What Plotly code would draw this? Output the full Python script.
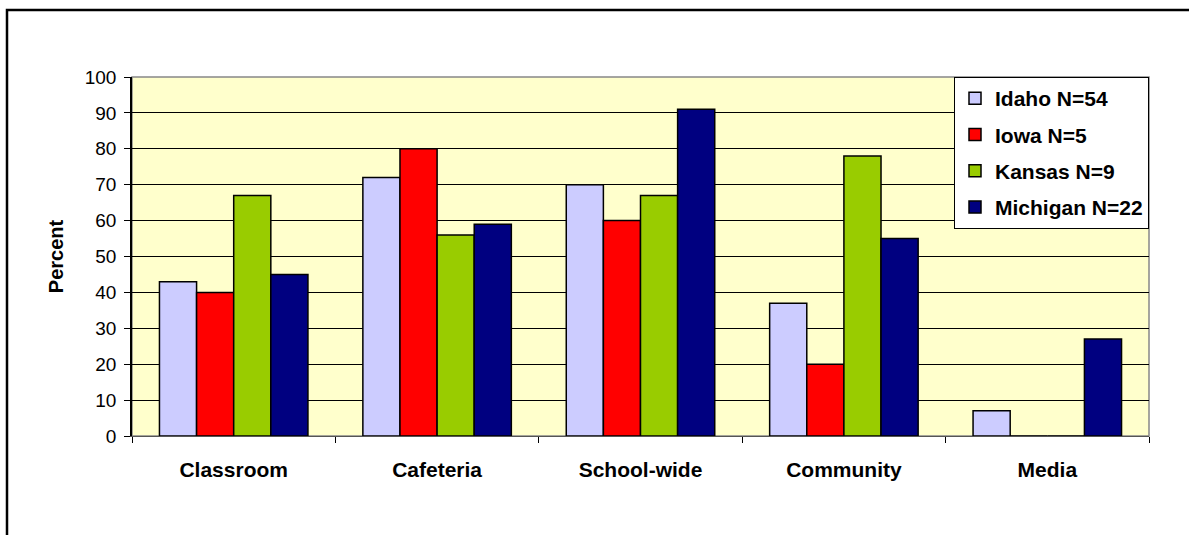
import plotly.graph_objects as go

# Survey results by setting and state
categories = ["Classroom", "Cafeteria", "School-wide", "Community", "Media"]
series_names = ["Idaho N=54", "Iowa N=5", "Kansas N=9", "Michigan N=22"]
idaho = [43, 72, 70, 37, 7]
iowa = [40, 80, 60, 20, 0]
kansas = [67, 56, 67, 78, 0]
michigan = [45, 59, 91, 55, 27]
colors = ["#CCCCFF", "#FF0000", "#99CC00", "#000080"]

FONT = "Liberation Sans, Arial, sans-serif"

fig = go.Figure()
for i, (name, vals, col) in enumerate(zip(series_names, [idaho, iowa, kansas, michigan], colors)):
    fig.add_trace(go.Bar(
        x=categories, y=vals, name=name,
        marker=dict(color=col, line=dict(color="black", width=1.5)),
        legendgroup=f"g{i}",
    ))

W, H = 1189, 535
L, R, T, B = 132, 40, 77, 98.5
pw, ph = W - L - R, H - T - B

def px_x(p):
    return (p - L) / pw

def px_y(p):
    return (H - B - p) / ph

fig.update_layout(
    width=W, height=H,
    margin=dict(l=L, r=R, t=T, b=B, pad=0),
    paper_bgcolor="white",
    plot_bgcolor="#FFFFCC",
    barmode="group",
    bargap=0.27,
    bargroupgap=0,
    font=dict(family=FONT, size=19, color="black"),
    legend=dict(
        x=1, xanchor="right", y=1, yanchor="top",
        bgcolor="white", bordercolor="black", borderwidth=1,
        font=dict(family=FONT, size=21, color="black", weight="bold"),
        tracegroupgap=6,
        itemwidth=30,
    ),
    xaxis=dict(
        type="category",
        tickson="boundaries",
        ticks="outside", ticklen=6, tickcolor="black",
        showline=True, linecolor="#555555", linewidth=1,
        tickfont=dict(family=FONT, size=21, weight="bold"),
        ticklabelstandoff=15,
        showgrid=False,
    ),
    yaxis=dict(
        range=[0, 100], dtick=10,
        ticks="outside", ticklen=6, tickcolor="black",
        showline=True, linecolor="black", linewidth=1.5,
        showgrid=True, gridcolor="black", gridwidth=1,
        tickfont=dict(family=FONT, size=19),
        ticklabelstandoff=4,
        title=dict(text="Percent", font=dict(family=FONT, size=20, weight="bold"), standoff=16),
        zeroline=False,
    ),
    shapes=[
        # grey frame around the plotting area
        dict(type="rect", xref="paper", yref="paper", x0=0, x1=1, y0=0, y1=1,
             line=dict(color="#888888", width=1.5), layer="below"),
        # outer chart border (top and left edges visible)
        dict(type="rect", xref="paper", yref="paper",
             x0=px_x(7), x1=px_x(W + 20), y0=px_y(H + 20), y1=px_y(10),
             line=dict(color="black", width=2.5), layer="below"),
    ],
)

fig.write_html("out.html")
